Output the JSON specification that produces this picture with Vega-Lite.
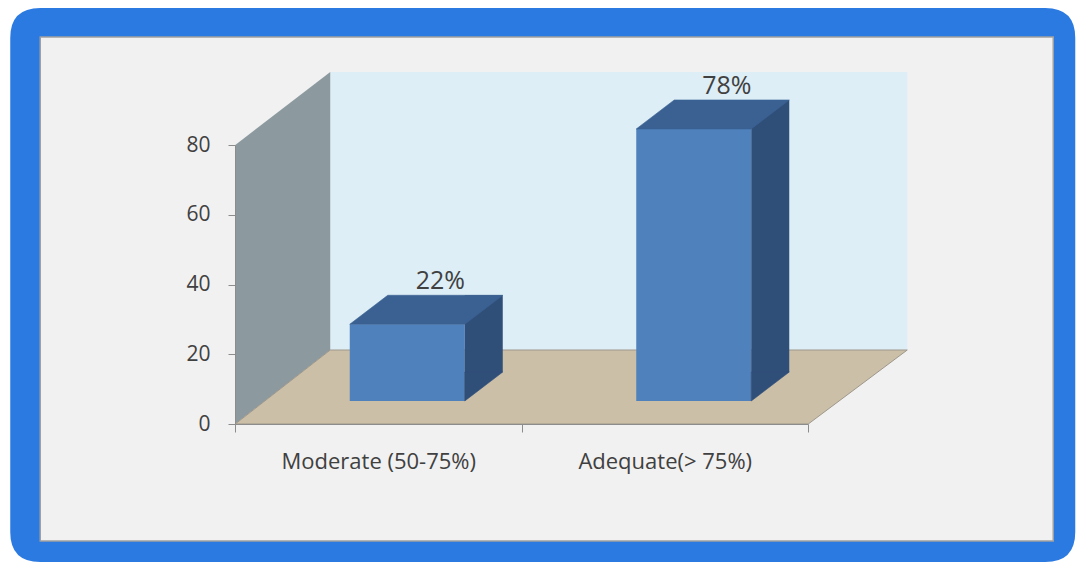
{
  "$schema": "https://vega.github.io/schema/vega-lite/v6.json",
  "width": 573,
  "height": 279,
  "autosize": {"type": "none"},
  "padding": {"left": 235, "top": 145, "right": 271, "bottom": 141},
  "background": "#ffffff",
  "config": {"view": {"stroke": null}, "font": "Open Sans"},
  "data": {"values": [
    {"category": "Moderate (50-75%)", "value": 22, "label": "22%"},
    {"category": "Adequate(> 75%)", "value": 78, "label": "78%"}
  ]},
  "encoding": {
    "x": {"field": "category", "type": "nominal", "sort": null, "title": null,
      "scale": {"domain": ["Moderate (50-75%)", "Adequate(> 75%)"], "paddingInner": 0, "paddingOuter": 0},
      "axis": {"zindex": 1, "labelAngle": 0, "labelLimit": 400, "domainColor": "#8c8c8c", "tickColor": "#8c8c8c", "tickBand": "extent", "tickSize": 8, "labelPadding": 19, "labelFontSize": 22, "labelColor": "#404040", "labelFont": "Open Sans"}},
    "y": {"field": "value", "type": "quantitative", "title": null,
      "scale": {"domain": [0, 80], "nice": false},
      "axis": {"zindex": 1, "values": [0, 20, 40, 60, 80], "grid": false, "domainColor": "#8c8c8c", "tickColor": "#8c8c8c", "tickSize": 7, "labelPadding": 18, "labelFontSize": 21, "labelColor": "#404040", "labelFont": "Open Sans"}}
  },
  "layer": [
    {"transform": [{"filter": "datum.category == 'Moderate (50-75%)'"}],
     "mark": {"type": "point", "shape": "M -338 -416 L 667 -416 Q 697 -416 697 -386 L 697 108 Q 697 138 667 138 L -338 138 Q -368 138 -368 108 L -368 -386 Q -368 -416 -338 -416 Z", "size": 4, "filled": true, "opacity": 1, "color": "#2a7ae2", "strokeWidth": 0},
     "encoding": {"y": {"datum": 0, "type": "quantitative", "title": null}}},
    {"transform": [{"filter": "datum.category == 'Moderate (50-75%)'"}],
     "mark": {"type": "point", "shape": "M -338 -387 L 675 -387 L 675 117 L -338 117 Z", "size": 4, "filled": false, "opacity": 1, "fill": "#f1f1f1", "stroke": "#a0a0a0", "strokeWidth": 1.5},
     "encoding": {"y": {"datum": 0, "type": "quantitative", "title": null}}},
    {"transform": [{"filter": "datum.category == 'Moderate (50-75%)'"}],
     "mark": {"type": "point", "shape": "M -48 -74 L 529 -74 L 529 -352 L -48 -352 Z", "size": 4, "filled": true, "opacity": 1, "color": "#ddeef6", "strokeWidth": 0},
     "encoding": {"y": {"datum": 0, "type": "quantitative", "title": null}}},
    {"transform": [{"filter": "datum.category == 'Moderate (50-75%)'"}],
     "mark": {"type": "point", "shape": "M -143 0 L -143 -279 L -48 -352 L -48 -74 Z", "size": 4, "filled": true, "opacity": 1, "color": "#8c9a9f", "strokeWidth": 0},
     "encoding": {"y": {"datum": 0, "type": "quantitative", "title": null}}},
    {"transform": [{"filter": "datum.category == 'Moderate (50-75%)'"}],
     "mark": {"type": "point", "shape": "M -143 0 L -48 -74 L 529 -74 L 430 0 Z", "size": 4, "filled": false, "opacity": 1, "fill": "#cbbfa8", "stroke": "#9e978b", "strokeWidth": 1},
     "encoding": {"y": {"datum": 0, "type": "quantitative", "title": null}}},
    {"mark": {"type": "bar", "width": 115, "xOffset": 29, "yOffset": -23, "y2Offset": -23, "color": "#4f81bd"}},
    {"mark": {"type": "bar", "width": 38, "xOffset": 105.5, "yOffset": -52, "y2Offset": -52, "color": "#2f4e78"}},
    {"mark": {"type": "point", "shape": "M 86.5 -23 L 86.5 -52 L 124.5 -52 Z", "size": 4, "filled": false, "opacity": 1, "fill": "#2f4e78", "stroke": "#2f4e78", "strokeWidth": 0.6},
     "encoding": {"y": {"datum": 0, "type": "quantitative", "title": null}}},
    {"mark": {"type": "point", "shape": "M -28.5 -23 L 86.5 -23 L 124.5 -52 L 9.5 -52 Z", "size": 4, "filled": false, "opacity": 1, "fill": "#3a6192", "stroke": "#3a6192", "strokeWidth": 0.6}},
    {"mark": {"type": "text", "xOffset": 62, "yOffset": -58, "baseline": "alphabetic", "align": "center", "fontSize": 25, "color": "#404040", "font": "Open Sans"},
     "encoding": {"text": {"field": "label"}}}
  ]
}
